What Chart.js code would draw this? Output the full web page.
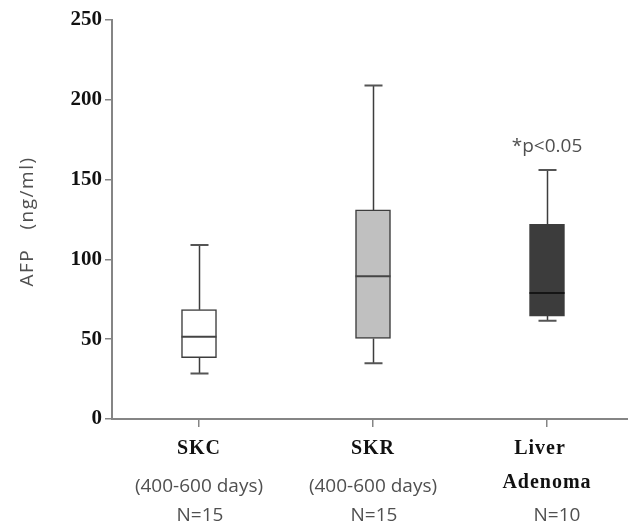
<!DOCTYPE html>
<html><head><meta charset="utf-8">
<script src="https://cdn.jsdelivr.net/npm/chart.js@4"></script>
<style>html,body{margin:0;padding:0;background:#fff;overflow:hidden}#wrap{width:634px;height:526px;position:relative}</style>
</head><body><div id="wrap"><canvas id="c" width="634" height="526"></canvas></div>
<script>
// ---- data ----
const groupNameLines = [['SKC'], ['SKR'], ['Liver', 'Adenoma']];
const groupPeriods = ['(400-600 days)', '(400-600 days)', ''];
const groupN = ['N=15', 'N=15', 'N=10'];
const whiskerMin = [28.5, 35, 61.5];
const q1 = [38.5, 50.5, 64.5];
const median = [51.5, 89.5, 79];
const q3 = [68.5, 131, 122];
const whiskerMax = [109, 209, 156];
const yTicks = [0, 50, 100, 150, 200, 250];
const yTitle = 'AFP   (ng/ml)';
const annotationText = '*p<0.05';
const annotationGroup = 2;

// ---- styles ----
const boxFill = ['#ffffff', '#c0c0c0', '#3c3c3c'];
const lineColor = '#3d3d3d';
const axisColor = '#858585';
const textGray = '#505050';

const boxParts = {
  id: 'boxParts',
  beforeDatasetsDraw(chart) {
    const ctx = chart.ctx, y = chart.scales.y;
    const meta = chart.getDatasetMeta(0);
    ctx.save();
    meta.data.forEach((bar, i) => {
      const x = Math.round(bar.x) + 0.5;
      const capHalf = 9;
      ctx.strokeStyle = lineColor; ctx.lineWidth = 1.5;
      ctx.beginPath();
      ctx.moveTo(x, y.getPixelForValue(whiskerMin[i]));
      ctx.lineTo(x, y.getPixelForValue(q1[i]));
      ctx.moveTo(x, y.getPixelForValue(q3[i]));
      ctx.lineTo(x, y.getPixelForValue(whiskerMax[i]));
      ctx.stroke();
      ctx.beginPath();
      [whiskerMin[i], whiskerMax[i]].forEach(v => {
        const py = y.getPixelForValue(v);
        ctx.moveTo(x - capHalf, py); ctx.lineTo(x + capHalf, py);
      });
      ctx.strokeStyle = '#555'; ctx.lineWidth = 2;
      ctx.stroke();
    });
    ctx.restore();
  },
  afterDatasetsDraw(chart) {
    const ctx = chart.ctx, y = chart.scales.y;
    const meta = chart.getDatasetMeta(0);
    ctx.save();
    meta.data.forEach((bar, i) => {
      const py = y.getPixelForValue(median[i]);
      ctx.beginPath();
      ctx.strokeStyle = i === 2 ? '#151515' : '#444';
      ctx.lineWidth = 2;
      ctx.moveTo(bar.x - bar.width / 2, py);
      ctx.lineTo(bar.x + bar.width / 2, py);
      ctx.stroke();
    });
    const ab = meta.data[annotationGroup];
    ctx.fillStyle = textGray;
    ctx.font = '19px "Open Sans"';
    ctx.textAlign = 'center'; ctx.textBaseline = 'middle';
    ctx.fillText(annotationText, ab.x, y.getPixelForValue(whiskerMax[annotationGroup]) - 23);
    ctx.restore();
  },
  afterDraw(chart) {
    const ctx = chart.ctx, xs = chart.scales.x, ca = chart.chartArea;
    const base = ca.bottom;
    const lineYs = [base + 30, base + 68, base + 97];
    ctx.save();
    ctx.textAlign = 'center'; ctx.textBaseline = 'middle';
    groupNameLines.forEach((lines, i) => {
      const x = xs.getPixelForValue(i);
      let k = 0;
      lines.forEach(t => {
        ctx.fillStyle = '#111';
        ctx.letterSpacing = '1px';
        ctx.font = 'bold 20px "Liberation Serif"';
        const dx = (lines.length > 1 && k === 0) ? -7 : 0;
        ctx.fillText(t, x + dx, lineYs[k] - (k > 0 ? 4 : 0));
        k++;
      });
      ctx.letterSpacing = '0px';
      ctx.fillStyle = textGray;
      ctx.font = '19px "Open Sans"';
      if (groupPeriods[i]) ctx.fillText(groupPeriods[i], x, lineYs[k++]);
      ctx.fillText(groupN[i], x + (lines.length > 1 ? 10 : 1), lineYs[2]);
    });
    // y title
    ctx.save();
    ctx.translate(28, (ca.top + ca.bottom) / 2 + 2);
    ctx.rotate(-Math.PI / 2);
    ctx.letterSpacing = '1.5px';
    ctx.fillStyle = textGray;
    ctx.font = '19px "Open Sans"';
    ctx.fillText(yTitle, 0, 0);
    ctx.restore();
    ctx.restore();
  }
};

new Chart(document.getElementById('c'), {
  type: 'bar',
  data: {
    labels: groupNameLines.map(l => l.join(' ')),
    datasets: [{
      data: q1.map((v, i) => [v, q3[i]]),
      backgroundColor: boxFill,
      borderColor: lineColor,
      borderWidth: 1.5,
      borderSkipped: false,
      barThickness: 35
    }]
  },
  options: {
    responsive: false,
    animation: false,
    devicePixelRatio: 1,
    layout: { padding: { top: 20, right: 0, bottom: 0, left: 0 } },
    plugins: { legend: { display: false }, tooltip: { enabled: false } },
    scales: {
      x: {
        grid: { display: true, offset: false, drawOnChartArea: false, drawTicks: true, tickLength: 8, color: axisColor, lineWidth: 1.5 },
        border: { color: axisColor, width: 2 },
        ticks: { display: false },
        afterFit(s) { s.height = 107; }
      },
      y: {
        min: 0, max: 250,
        afterBuildTicks(s) { s.ticks = yTicks.map(v => ({ value: v })); },
        grid: { display: true, drawOnChartArea: false, drawTicks: true, tickLength: 7, color: axisColor, lineWidth: 1.5 },
        border: { color: axisColor, width: 2 },
        ticks: { color: '#111', padding: 3, font: { family: 'Liberation Serif', size: 21, weight: 'bold' } },
        afterFit(s) { s.width = 112; }
      }
    }
  },
  plugins: [boxParts]
});
</script>
</body></html>
